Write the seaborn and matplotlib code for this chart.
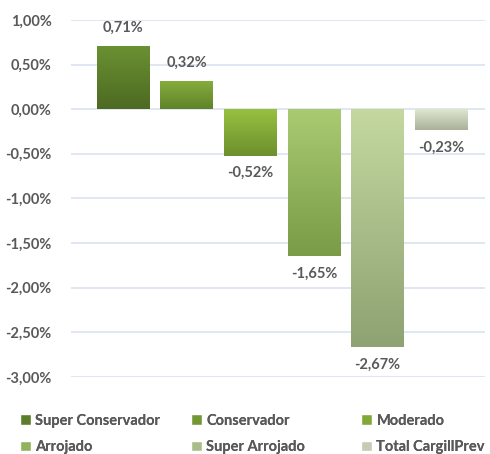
import numpy as np
import pandas as pd
import matplotlib
matplotlib.use("Agg")
import matplotlib.pyplot as plt
import matplotlib.colors as mcolors
from matplotlib.patches import Patch
from matplotlib.ticker import FuncFormatter
import seaborn as sns

# dados do gráfico
categorias = ["Super Conservador", "Conservador", "Moderado",
              "Arrojado", "Super Arrojado", "Total CargillPrev"]
rentabilidade = [0.71, 0.32, -0.52, -1.65, -2.67, -0.23]
cor_topo = ["#6b9133", "#88ad3d", "#98c040", "#aacb72", "#c4d8a0", "#dfe7d0"]
cor_base = ["#4d6a22", "#5e8329", "#6b902e", "#7a9b47", "#8ea272", "#a9b19a"]

df = pd.DataFrame({"categoria": categorias, "valor": rentabilidade})

sns.set_style("white")
plt.rcParams["font.family"] = ["Lato", "DejaVu Sans"]
plt.rcParams["font.weight"] = "bold"
cinza = "#595959"

fig = plt.figure(figsize=(4.9, 4.54), dpi=100)
ax = fig.add_axes([0.145, 0.170, 0.845, 0.786])

sns.barplot(data=df, x="categoria", y="valor", hue="categoria",
            palette=cor_topo, width=0.82, legend=False, ax=ax)

# preenchimento em degradê vertical
for patch, c1, c2 in zip(ax.patches, cor_topo, cor_base):
    x0, y0 = patch.get_x(), patch.get_y()
    w, h = patch.get_width(), patch.get_height()
    ylo, yhi = min(y0, y0 + h), max(y0, y0 + h)
    cmap = mcolors.LinearSegmentedColormap.from_list("g", [c2, c1])
    grad = np.linspace(0, 1, 256).reshape(-1, 1)
    im = ax.imshow(grad, cmap=cmap, aspect="auto", origin="lower",
                   extent=[x0, x0 + w, ylo, yhi], zorder=3)
    im.set_clip_path(patch)
    patch.set_edgecolor("none")

ax.set_xlim(-0.815, 5.69)
ax.set_ylim(-3.0, 1.0)
ax.set_yticks(np.arange(-3.0, 1.01, 0.5))
ax.yaxis.set_major_formatter(FuncFormatter(lambda v, p: f"{v:.2f}%".replace(".", ",")))
ax.grid(axis="y", color="#dbe3f0", linewidth=1.2)
ax.set_axisbelow(True)
ax.set_xticks([])
ax.set_xlabel("")
ax.set_ylabel("")
sns.despine(ax=ax, left=True, bottom=True)
ax.tick_params(axis="y", length=0, pad=14, labelsize=10.5, labelcolor=cinza)

# rótulos dos valores
for i, v in enumerate(rentabilidade):
    txt = f"{v:.2f}%".replace(".", ",")
    if v >= 0:
        ax.text(i, v + 0.12, txt, ha="center", va="bottom", fontsize=10.5,
                color=cinza, fontweight="bold")
    else:
        ax.text(i, v - 0.12, txt, ha="center", va="top", fontsize=10.5,
                color=cinza, fontweight="bold")

# legenda: três colunas posicionadas à mão
handles = [Patch(facecolor=mcolors.to_hex(np.mean([mcolors.to_rgb(a), mcolors.to_rgb(b)], axis=0)),
                 label=c) for c, a, b in zip(categorias, cor_topo, cor_base)]
colunas = [[0, 3], [1, 4], [2, 5]]
xs = [0.040, 0.390, 0.737]
for col, x in zip(colunas, xs):
    leg = fig.legend([handles[i] for i in col], [categorias[i] for i in col],
                     loc="lower left", bbox_to_anchor=(x, 0.0), ncol=1, frameon=False,
                     fontsize=10.5, labelcolor=cinza, handlelength=0.75, handleheight=0.75,
                     handletextpad=0.3, labelspacing=0.85, borderpad=0.0,
                     borderaxespad=0.0)
    fig.add_artist(leg)

fig.savefig("out.png", dpi=100)
